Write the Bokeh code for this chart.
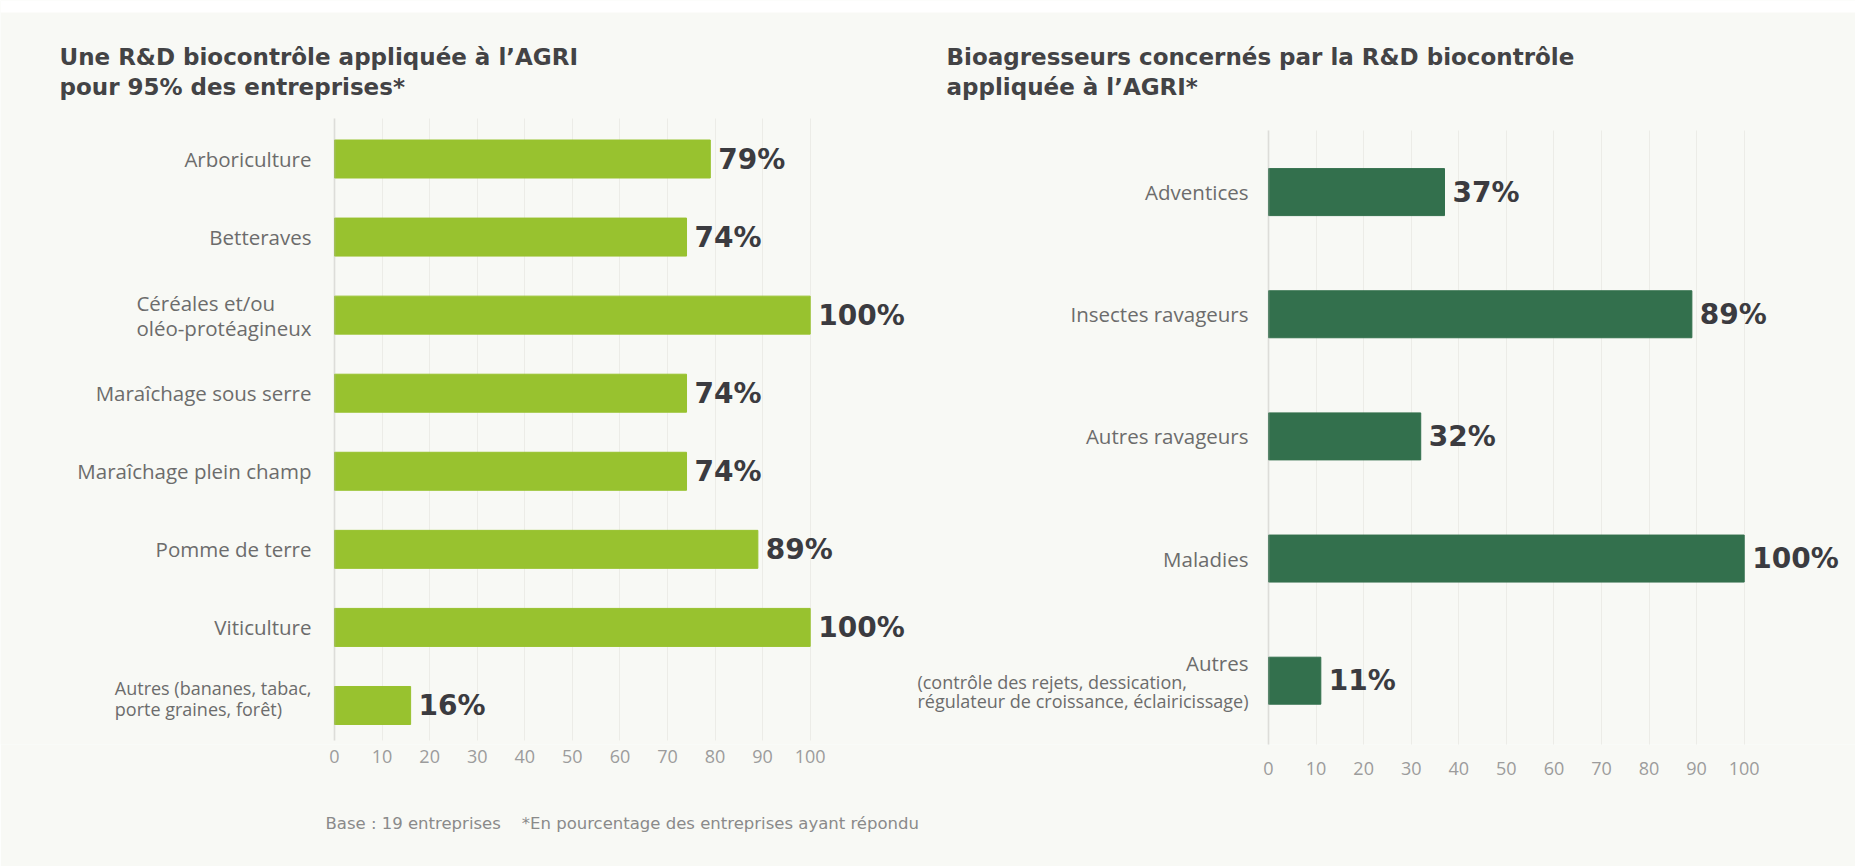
from bokeh.plotting import figure
from bokeh.models import (ColumnDataSource, LabelSet, Label, Title, FixedTicker, Range1d,
                          LinearAxis, Grid, BoxAnnotation)
from bokeh.core.properties import value
from bokeh.embed import file_html
from bokeh.resources import INLINE

# ---------------- data ----------------
left_title = ["Une R&D biocontrôle appliquée à l’AGRI", "pour 95% des entreprises*"]
left_categories = [
    "Arboriculture",
    "Betteraves",
    "Céréales et/ou\noléo-protéagineux",
    "Maraîchage sous serre",
    "Maraîchage plein champ",
    "Pomme de terre",
    "Viticulture",
    "Autres (bananes, tabac,\nporte graines, forêt)",
]
left_values = [79, 74, 100, 74, 74, 89, 100, 16]

right_title = ["Bioagresseurs concernés par la R&D biocontrôle", "appliquée à l’AGRI*"]
right_categories = ["Adventices", "Insectes ravageurs", "Autres ravageurs", "Maladies", "Autres"]
right_details = ["", "", "", "",
                 "(contrôle des rejets, dessication,\nrégulateur de croissance, éclairicissage)"]
right_values = [37, 89, 32, 100, 11]

x_ticks = [0, 10, 20, 30, 40, 50, 60, 70, 80, 90, 100]
footnote = "Base : 19 entreprises\u00a0\u00a0\u00a0\u00a0*En pourcentage des entreprises ayant répondu"

# ---------------- style / layout constants (page pixels) ----------------
BG = "#f8f9f5"
LIGHT_GREEN = "#98c22f"
DARK_GREEN = "#33704d"
TITLE_COLOR = "#434345"
VALUE_COLOR = "#3b3b40"
CAT_COLOR = "#6c6c6c"
TICK_COLOR = "#9c9c9c"
GRID_COLOR = "#ecece7"
AXIS_COLOR = "#b9b9b9"
FONT = "Open Sans"
BFONT = "DejaVu Sans"

W, H = 1855, 866
FRAME_BOTTOM = 744
U = 4.757                      # px per percentage point (both charts)

L_X0, L_ROW0, L_STEP = 334, 158.5, 78.07     # left chart: x of 0, first bar centre, bar spacing
R_X0, R_ROW0, R_STEP = 1268, 191.6, 122.15   # right chart


def lx(px): return (px - L_X0) / U
def ly(py): return (py - L_ROW0) / L_STEP
def rx(px): return (px - R_X0) / U
def ry(py): return (py - R_ROW0) / R_STEP


p = figure(width=W, height=H, output_backend="svg", toolbar_location=None,
           min_border_left=0, min_border_right=0, min_border_top=0,
           min_border_bottom=H - FRAME_BOTTOM,
           x_range=Range1d(lx(0), lx(W)),
           y_range=Range1d(ly(FRAME_BOTTOM), ly(0)),
           y_axis_location=None)
p.extra_x_ranges = {"r": Range1d(rx(0), rx(W))}
p.extra_y_ranges = {"r": Range1d(ry(FRAME_BOTTOM), ry(0))}
p.background_fill_color = BG
p.border_fill_color = BG
p.outline_line_color = None
p.ygrid.visible = False

# white page edge at the top, as in the reference
p.add_layout(BoxAnnotation(left=lx(0), right=lx(W), top=ly(0), bottom=ly(12),
                           fill_color="white", fill_alpha=1, line_color=None))


def style_axis(ax, standoff):
    ax.ticker = FixedTicker(ticks=x_ticks)
    ax.axis_line_color = None
    ax.major_tick_line_color = None
    ax.minor_tick_line_color = None
    ax.major_tick_out = 0
    ax.major_tick_in = 0
    ax.minor_tick_out = 0
    ax.major_label_text_font = FONT
    ax.major_label_text_font_size = "18px"
    ax.major_label_text_color = TICK_COLOR
    ax.major_label_standoff = standoff


style_axis(p.xaxis[0], 5)
axR = LinearAxis(x_range_name="r")
style_axis(axR, -4)
p.add_layout(axR, "below")

has_cross = "cross_bounds" in Grid.properties()

gL = p.xgrid[0]
gL.grid_line_color = GRID_COLOR
gR = Grid(dimension=0, ticker=FixedTicker(ticks=x_ticks), x_range_name="r", y_range_name="r",
          grid_line_color=GRID_COLOR)
p.add_layout(gR)
if has_cross:
    gL.cross_bounds = (ly(118), ly(740))
    gR.cross_bounds = (ry(130), ry(755))

# vertical axis lines
p.add_layout(BoxAnnotation(left=0, right=0, top=ly(118), bottom=ly(740),
                           line_color=AXIS_COLOR, line_width=2, fill_alpha=0))
p.add_layout(BoxAnnotation(left=0, right=0, top=ry(130), bottom=ry(755),
                           x_range_name="r", y_range_name="r",
                           line_color=AXIS_COLOR, line_width=2, fill_alpha=0))

# ---------------- left chart ----------------
nL = len(left_categories)
srcL = ColumnDataSource(dict(
    y=list(range(nL)), v=left_values, cat=left_categories,
    lab=[f"{v}%" for v in left_values],
    size=["18px" if c.startswith("Autres") else "20.5px" for c in left_categories],
    off=[7 if c.startswith("Autres") else 0 for c in left_categories],
))
p.hbar(y="y", left=0, right="v", height=38 / L_STEP, color=LIGHT_GREEN, source=srcL)
p.add_layout(LabelSet(x="v", y="y", text="lab", source=srcL, x_offset=8,
                      text_baseline="middle", text_align="left",
                      text_font=value(BFONT), text_font_style="bold",
                      text_font_size="28px", text_color=VALUE_COLOR))
p.add_layout(LabelSet(x=0, y="y", text="cat", source=srcL, x_offset=-23, y_offset="off",
                      text_baseline="middle", text_align="right",
                      text_font=value(FONT), text_font_size="size", text_line_height=0.9,
                      text_color=CAT_COLOR))

# ---------------- right chart ----------------
nR = len(right_categories)
srcR = ColumnDataSource(dict(
    y=list(range(nR)), v=right_values, cat=right_categories, det=right_details,
    cat_off=[18 if d else 0 for d in right_details],
    det_off=[-11 if d else 0 for d in right_details],
    lab=[f"{v}%" for v in right_values],
))
p.hbar(y="y", left=0, right="v", height=47 / R_STEP, color=DARK_GREEN, source=srcR,
       x_range_name="r", y_range_name="r")
p.add_layout(LabelSet(x="v", y="y", text="lab", source=srcR, x_offset=8,
                      x_range_name="r", y_range_name="r",
                      text_baseline="middle", text_align="left",
                      text_font=value(BFONT), text_font_style="bold",
                      text_font_size="28px", text_color=VALUE_COLOR))
p.add_layout(LabelSet(x=0, y="y", text="cat", source=srcR, x_offset=-20, y_offset="cat_off",
                      x_range_name="r", y_range_name="r",
                      text_baseline="middle", text_align="right",
                      text_font=value(FONT), text_font_size="20.5px", text_color=CAT_COLOR))
p.add_layout(LabelSet(x=0, y="y", text="det", source=srcR, x_offset=-20, y_offset="det_off",
                      x_range_name="r", y_range_name="r",
                      text_baseline="middle", text_align="right",
                      text_font=value(FONT), text_font_size="18px", text_line_height=0.78,
                      text_color=CAT_COLOR))

# ---------------- titles ----------------
for i, py in enumerate([56, 86]):
    p.add_layout(Label(x=lx(59), y=ly(py), text=left_title[i],
                       text_baseline="middle", text_align="left",
                       text_font=BFONT, text_font_size="23px", text_font_style="bold",
                       text_color=TITLE_COLOR))
    p.add_layout(Label(x=rx(946), y=ry(py), text=right_title[i],
                       x_range_name="r", y_range_name="r",
                       text_baseline="middle", text_align="left",
                       text_font=BFONT, text_font_size="23px", text_font_style="bold",
                       text_color=TITLE_COLOR))

# ---------------- footnote ----------------
p.add_layout(Title(text=footnote, align="left", offset=325, standoff=68,
                   vertical_align="bottom",
                   text_font=BFONT, text_font_size="16.5px", text_font_style="normal",
                   text_color="#8a8a8a"), "below")

open("out.html", "w").write(file_html(p, INLINE))
